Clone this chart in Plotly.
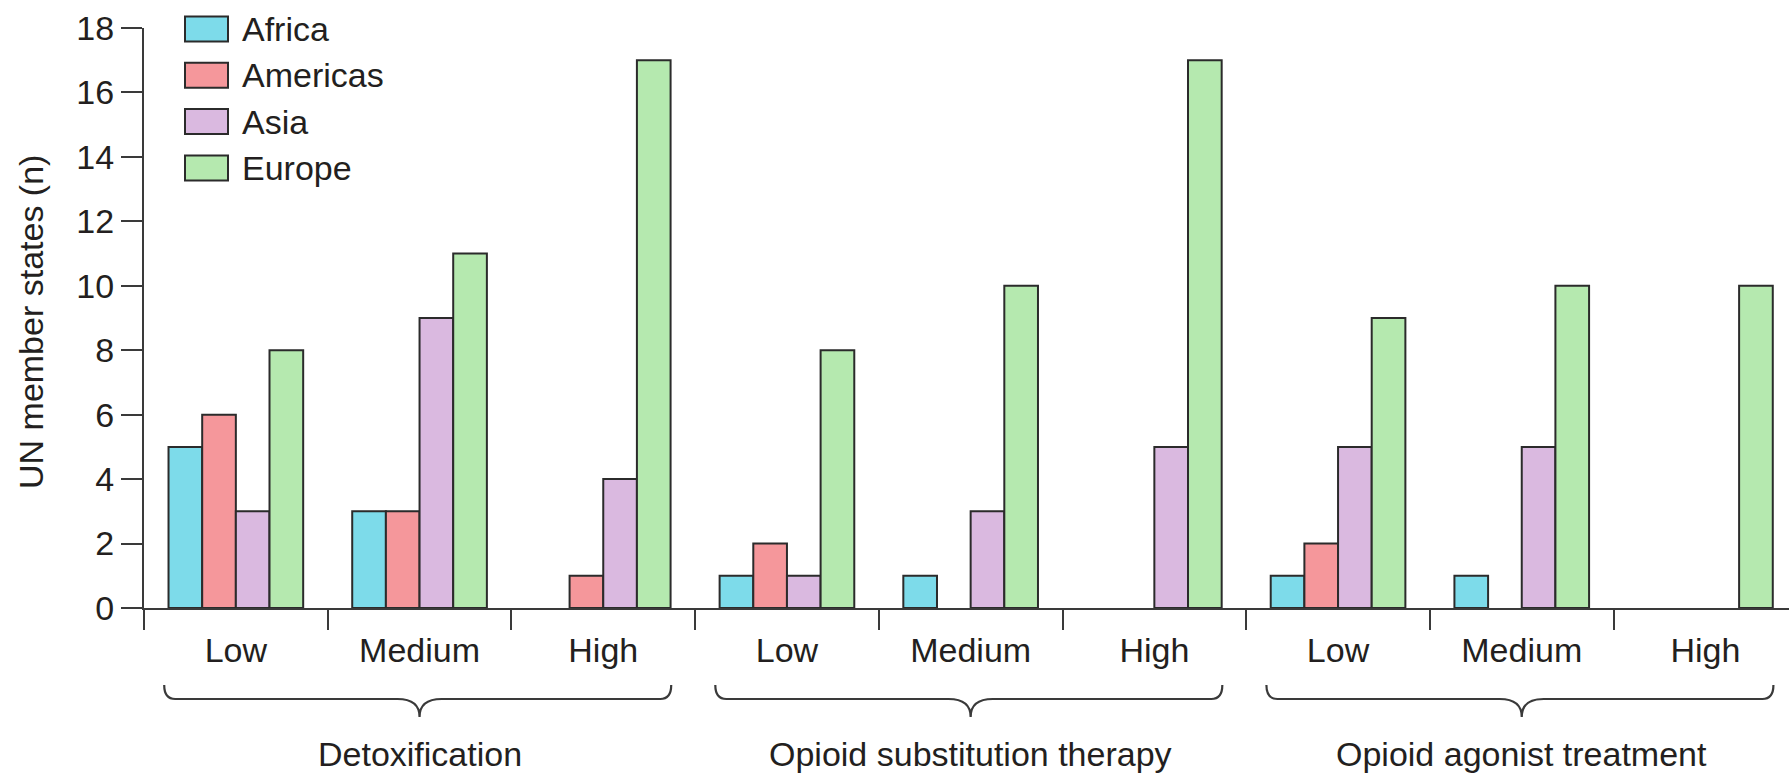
import plotly.graph_objects as go

# ---------------- data ----------------
treatments = ["Detoxification", "Opioid substitution therapy", "Opioid agonist treatment"]
levels = ["Low", "Medium", "High"]
regions = ["Africa", "Americas", "Asia", "Europe"]
africa = [5, 3, 0, 1, 1, 0, 1, 1, 0]
americas = [6, 3, 1, 2, 0, 0, 2, 0, 0]
asia = [3, 9, 4, 1, 3, 5, 5, 5, 0]
europe = [8, 11, 17, 8, 10, 17, 9, 10, 10]
y_ticks = list(range(0, 19, 2))

# ---------------- styling ----------------
colors = ["#7ddbea", "#f5979b", "#dab9e0", "#b5e9af"]
edge = "#2b2b2b"
txt = "#231f20"
FONT = "Liberation Sans"
FS = 34

W, H = 1789, 773
L, T, B = 144, 28, 165
plot_w = W - L
plot_h = H - T - B
cat_px = 183.7

series = [africa, americas, asia, europe]
n_cat = len(treatments) * len(levels)
x_pos = list(range(n_cat))
x_labels = [lv for _ in treatments for lv in levels]

fig = go.Figure()
for name, vals, col in zip(regions, series, colors):
    fig.add_trace(go.Bar(
        x=x_pos, y=[v if v else None for v in vals], name=name,
        marker=dict(color=col, line=dict(color=edge, width=2)),
        showlegend=False,
    ))

def py(px_from_top):
    return (T + plot_h - px_from_top) / plot_h

def pxx(px):
    return (px - L) / plot_w

shapes = []
annotations = []

# legend (custom)
for i, (name, col) in enumerate(zip(regions, colors)):
    yc = 29 + i * 46.3
    shapes.append(dict(type="rect", xref="paper", yref="paper",
                       x0=pxx(185), x1=pxx(228), y0=py(yc + 12.5), y1=py(yc - 12.5),
                       fillcolor=col, line=dict(color=edge, width=2), layer="above"))
    annotations.append(dict(xref="paper", yref="paper", x=pxx(240), y=py(yc),
                            text=name, showarrow=False, xanchor="left", yanchor="middle",
                            font=dict(family=FONT, size=FS, color=txt)))

# braces + treatment labels
y_end, y_h, y_tip = py(685), py(699), py(717)
for g, tname in enumerate(treatments):
    c = g * len(levels) + (len(levels) - 1) / 2
    xa, xb = c - 1.39, c + 1.37
    r1, r2 = 0.06, 0.12
    path = (f"M {xa},{y_end} Q {xa},{y_h} {xa + r1},{y_h} "
            f"L {c - r2},{y_h} Q {c},{y_h} {c},{y_tip} "
            f"Q {c},{y_h} {c + r2},{y_h} "
            f"L {xb - r1},{y_h} Q {xb},{y_h} {xb},{y_end}")
    shapes.append(dict(type="path", xref="x", yref="paper", path=path,
                       line=dict(color="#3a3a3a", width=2.2)))
    annotations.append(dict(xref="x", yref="paper", x=c, y=py(754), text=tname,
                            showarrow=False, xanchor="center", yanchor="middle",
                            font=dict(family=FONT, size=FS, color=txt)))

# y-axis title
annotations.append(dict(xref="paper", yref="paper", x=pxx(31), y=py(322),
                        text="UN member states (n)", textangle=-90, showarrow=False,
                        xanchor="center", yanchor="middle",
                        font=dict(family=FONT, size=FS, color=txt)))

fig.update_layout(
    width=W, height=H,
    margin=dict(l=L, r=0, t=T, b=B, autoexpand=False),
    paper_bgcolor="white", plot_bgcolor="white",
    barmode="group", bargap=0.267, bargroupgap=0,
    font=dict(family=FONT, size=FS, color=txt),
    shapes=shapes, annotations=annotations,
    showlegend=False,
)
fig.update_xaxes(
    range=[-0.5, -0.5 + plot_w / cat_px],
    tickmode="array", tickvals=x_pos, ticktext=x_labels,
    ticks="outside", ticklen=11, tickcolor="rgba(0,0,0,0)",
    minor=dict(tickmode="array", tickvals=[i - 0.5 for i in range(n_cat + 1)],
               ticks="outside", ticklen=20, tickwidth=2, tickcolor="#3a3a3a"),
    showline=True, linecolor="#3a3a3a", linewidth=2,
    showgrid=False, zeroline=False,
    tickfont=dict(family=FONT, size=FS, color=txt),
)
fig.update_yaxes(
    range=[0, 18], tickmode="array", tickvals=y_ticks,
    ticks="outside", ticklen=21, tickwidth=2, tickcolor="#3a3a3a",
    showline=True, linecolor="#3a3a3a", linewidth=2,
    showgrid=False, zeroline=False,
    tickfont=dict(family=FONT, size=FS, color=txt),
)

fig.write_html("out.html", config={"displayModeBar": False},
               post_script="document.body.style.margin='0px';")
